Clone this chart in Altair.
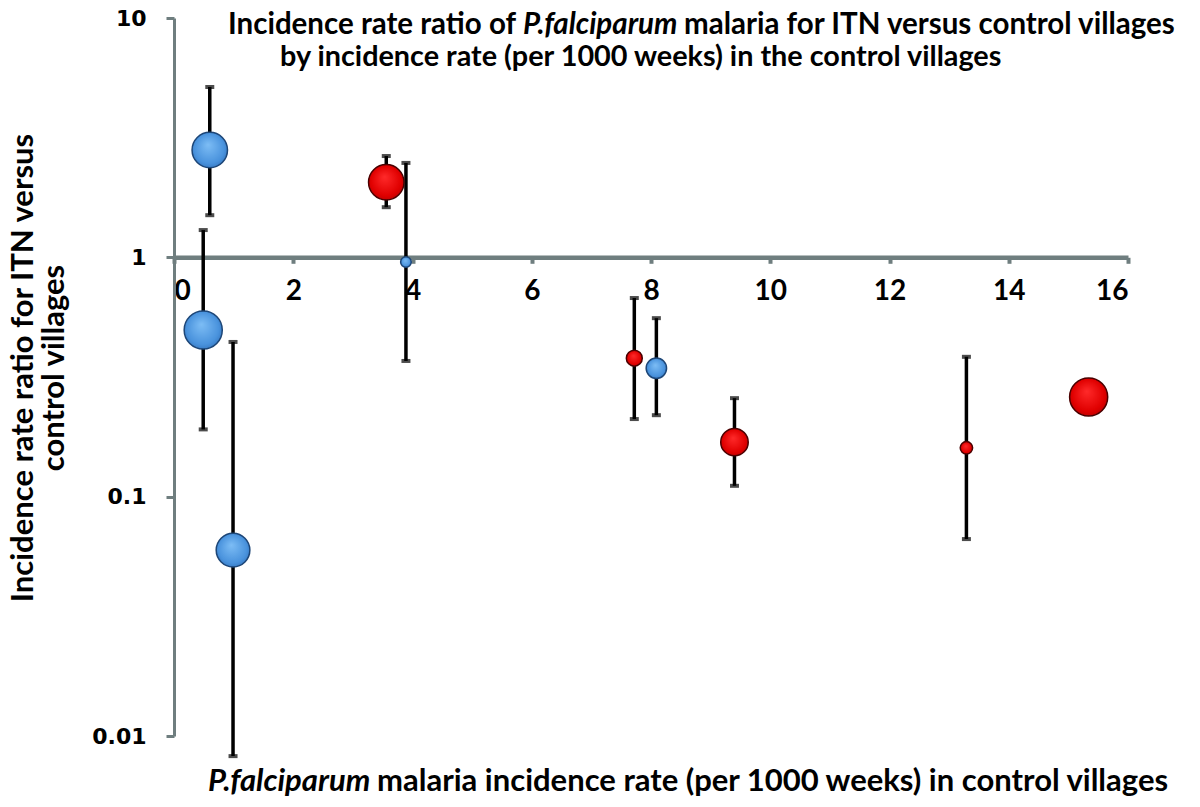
import altair as alt
import pandas as pd

# Incidence rate in control villages (per 1000 weeks)
incidence_rate = [0.60, 0.49, 0.99, 3.56, 3.89, 7.72, 8.09, 9.40, 13.29, 15.34]
# Incidence rate ratio ITN vs control
irr = [2.81, 0.497, 0.0598, 2.06, 0.956, 0.379, 0.344, 0.169, 0.160, 0.261]
irr_low = [1.50, 0.191, 0.00824, 1.62, 0.369, 0.211, 0.219, 0.111, 0.0665, None]
irr_high = [5.15, 1.30, 0.443, 2.65, 2.48, 0.676, 0.557, 0.258, 0.384, None]
series = ["blue", "blue", "blue", "red", "blue", "red", "blue", "red", "red", "red"]
bubble_weight = [1600, 1849, 1444, 1600, 144, 324, 529, 961, 196, 1849]

x_ticks = [0, 2, 4, 6, 8, 10, 12, 14, 16]
y_ticks = [0.01, 0.1, 1, 10]

title_line1 = ["Incidence rate ratio of ", "P.falciparum", "malaria for ITN versus control villages"]
title_line2 = "by incidence rate (per 1000 weeks) in the control villages"
x_title = ["P.falciparum", "malaria incidence rate (per 1000 weeks) in control villages"]
y_title = ["Incidence rate ratio for ITN versus", "control villages"]

df = pd.DataFrame({
    "rate": incidence_rate, "irr": irr, "lo": irr_low, "hi": irr_high,
    "series": series, "w": bubble_weight,
})

AX = "#6F7E7F"
TFONT = "Lato"

xscale = alt.Scale(domain=[0, 16], nice=False, zero=False)
yscale = alt.Scale(type="log", domain=[0.01, 10], nice=False)
sscale = alt.Scale(domain=[0, 1849], range=[0, 1452], zero=True)

xaxis = alt.Axis(values=x_ticks, format="d", title=None, grid=False,
                 domainColor=AX, domainWidth=4.5, tickColor=AX, tickWidth=4,
                 tickSize=6, labelFont=TFONT, labelFontWeight="bold",
                 labelFontSize=28, labelColor="black", labelPadding=14,
                 offset=-478.7)
yaxis = alt.Axis(values=y_ticks, labelExpr="datum.value >= 1 ? format(datum.value, 'd') : format(datum.value, '.2~f')",
                 title=None, grid=False,
                 domainColor=AX, domainWidth=3, tickColor=AX, tickWidth=3,
                 tickSize=8, labelFont="DejaVu Sans", labelFontWeight="bold",
                 labelFontSize=22, labelColor="black", labelPadding=20)

base = alt.Chart(df)

bars = base.transform_filter("isValid(datum.lo)").mark_rule(
    color="black", strokeWidth=3.5).encode(
    x=alt.X("rate:Q", scale=xscale, axis=xaxis),
    y=alt.Y("lo:Q", scale=yscale, axis=yaxis),
    y2="hi:Q",
)
caps_lo = base.transform_filter("isValid(datum.lo)").mark_tick(
    color="black", orient="horizontal", size=9, thickness=4).encode(
    x=alt.X("rate:Q", scale=xscale), y=alt.Y("lo:Q", scale=yscale))
caps_hi = base.transform_filter("isValid(datum.hi)").mark_tick(
    color="black", orient="horizontal", size=9, thickness=4).encode(
    x=alt.X("rate:Q", scale=xscale), y=alt.Y("hi:Q", scale=yscale))

blue_grad = alt.RadialGradient(gradient="radial", x1=0.45, y1=0.35, r1=0.0,
                               x2=0.5, y2=0.5, r2=0.6,
                               stops=[alt.GradientStop(offset=0, color="#7DBDF5"),
                                      alt.GradientStop(offset=0.7, color="#4A93DD"),
                                      alt.GradientStop(offset=1, color="#2E6EB8")])
red_grad = alt.RadialGradient(gradient="radial", x1=0.45, y1=0.35, r1=0.0,
                              x2=0.5, y2=0.5, r2=0.6,
                              stops=[alt.GradientStop(offset=0, color="#FF2A2A"),
                                     alt.GradientStop(offset=0.7, color="#E00000"),
                                     alt.GradientStop(offset=1, color="#B00000")])

blue_pts = base.transform_filter("datum.series == 'blue'").mark_point(
    filled=True, shape="circle", fill=blue_grad, stroke="#1D4677", strokeWidth=1.5, opacity=1).encode(
    x=alt.X("rate:Q", scale=xscale), y=alt.Y("irr:Q", scale=yscale),
    size=alt.Size("w:Q", scale=sscale, legend=None))
red_pts = base.transform_filter("datum.series == 'red'").mark_point(
    filled=True, shape="circle", fill=red_grad, stroke="#4A0000", strokeWidth=1.5, opacity=1).encode(
    x=alt.X("rate:Q", scale=xscale), y=alt.Y("irr:Q", scale=yscale),
    size=alt.Size("w:Q", scale=sscale, legend=None))


def txt(s, x, y, size=29.5, style="normal", align="left", angle=0):
    return alt.Chart(pd.DataFrame({"t": [s]})).mark_text(
        font=TFONT, fontWeight="bold", fontStyle=style, fontSize=size,
        align=align, baseline="middle", color="black", angle=angle).encode(
        x=alt.value(x), y=alt.value(y), text="t:N")

texts = [
    txt(title_line1[0], 54, 7),
    txt(title_line1[1], 349, 7, style="italic"),
    txt(title_line1[2], 510, 7),
    txt(title_line2, 106, 39, size=28.8),
    txt(x_title[0], 34, 764, size=31, style="italic"),
    txt(x_title[1], 203, 764, size=31),
    txt(y_title[0], -150, 350, size=31, align="center", angle=270),
    txt(y_title[1], -119, 350, size=31, align="center", angle=270),
]

chart = alt.layer(bars, caps_lo, caps_hi, blue_pts, red_pts, *texts).properties(
    width=954, height=718,
    autosize=alt.AutoSizeParams(type="none"),
    padding={"left": 166, "top": 10, "right": 60, "bottom": 63},
).configure_view(stroke=None)

chart.save("out.html", embed_options={"renderer": "svg", "actions": False})
